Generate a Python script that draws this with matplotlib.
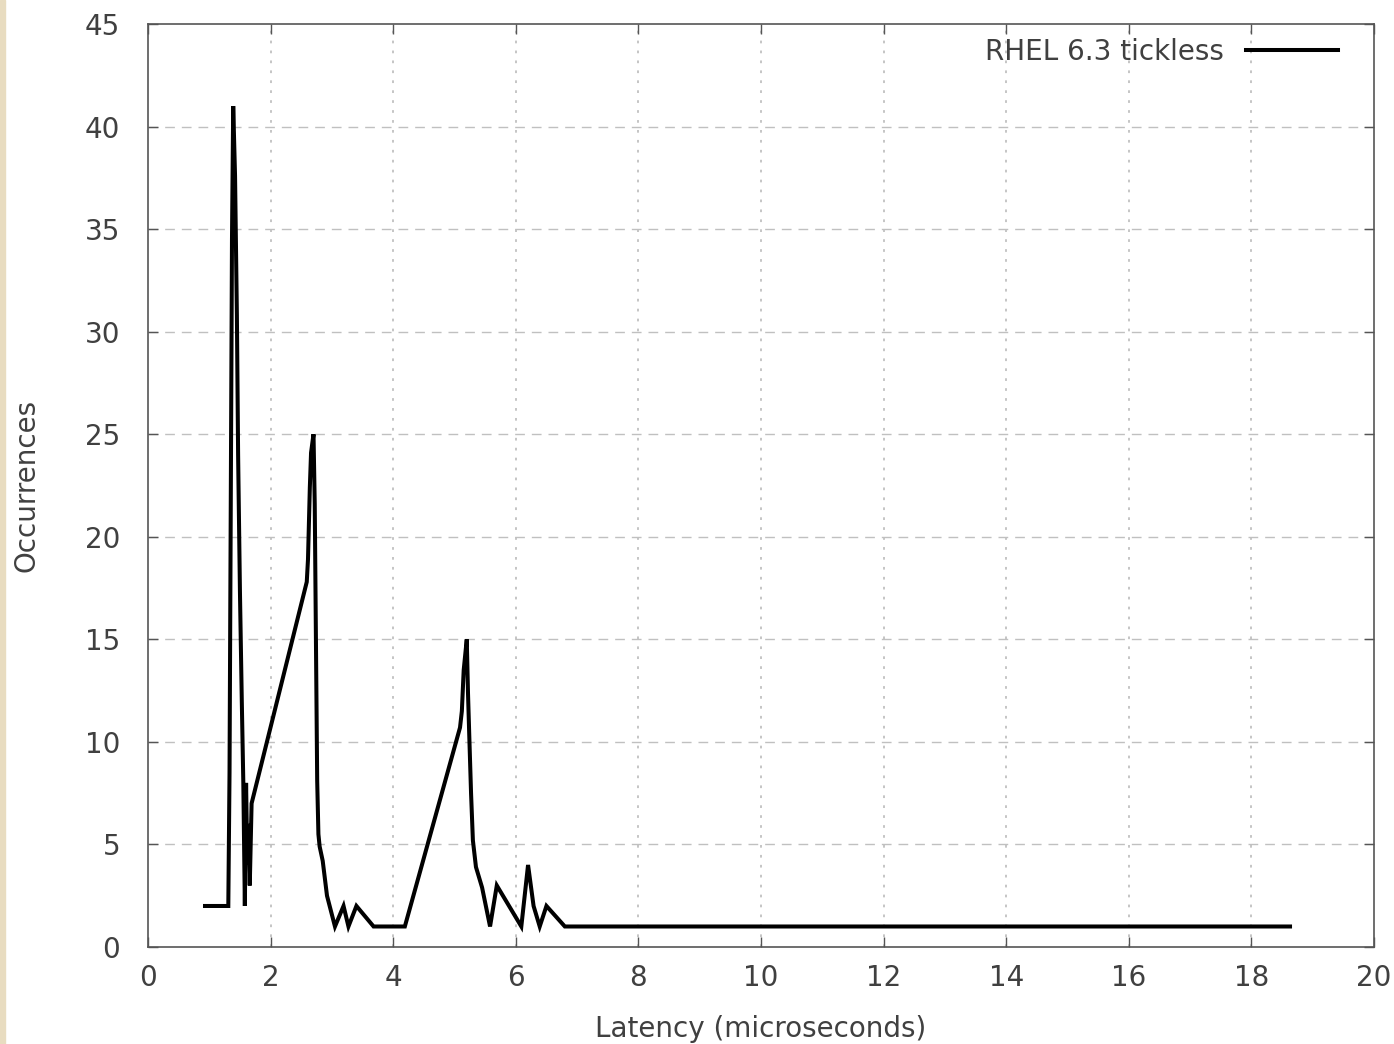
import matplotlib
matplotlib.use("Agg")
import matplotlib.pyplot as plt
from matplotlib.patches import Rectangle

# Latency histogram, values
latency = [0.93, 1.31, 1.33, 1.35, 1.37, 1.39, 1.42, 1.45, 1.47, 1.50, 1.53, 1.555,
           1.58, 1.60, 1.62, 1.64, 1.66, 1.69,
           2.59, 2.61, 2.64, 2.66, 2.70, 2.72, 2.74, 2.76, 2.78, 2.80, 2.85, 2.92,
           3.05, 3.19, 3.27, 3.40, 3.68, 4.19,
           5.09, 5.12, 5.15, 5.20, 5.22, 5.24, 5.27, 5.30, 5.35, 5.45, 5.58, 5.69,
           6.09, 6.20, 6.29, 6.39, 6.50, 6.80, 18.63]
occurrences = [2, 2, 8.5, 21.5, 34.5, 41, 37.6, 30.8, 24, 17.3, 12, 8,
               2, 8, 4, 6, 3, 7,
               17.8, 18.9, 22.4, 24.1, 25, 21.6, 14.8, 8.1, 5.5, 4.9, 4.2, 2.5,
               1, 2, 1, 2, 1, 1,
               10.7, 11.5, 13.5, 15, 12.4, 10.4, 7.5, 5.2, 3.9, 2.9, 1, 3,
               1, 4, 2, 1, 2, 1, 1]
series_name = "RHEL 6.3 tickless"

x_ticks = list(range(0, 21, 2))
y_ticks = list(range(0, 46, 5))

txt = "#404040"
fs = 20
plt.rcParams["font.family"] = ["DejaVu Sans"]

fig = plt.figure(figsize=(13.94, 10.44), dpi=100)
fig.patches.append(Rectangle((0, 0), 5 / 1394, 1, transform=fig.transFigure,
                             color="#e8dcc0", zorder=0))
ax = fig.add_axes([148 / 1394, 1 - 947 / 1044, 1226 / 1394, 923 / 1044])

ax.plot(latency, occurrences, color="black", lw=2.9, label=series_name,
        solid_joinstyle="miter")

ax.set_xlim(0, 20)
ax.set_ylim(0, 45)
ax.set_xticks(x_ticks)
ax.set_yticks(y_ticks)

# gnuplot style grid
for xv in x_ticks[1:-1]:
    ax.axvline(xv, color="#c0c0c0", lw=1.3, ls=(0, (1.5, 4)), zorder=0)
for yv in y_ticks[1:-1]:
    ax.axhline(yv, color="#c0c0c0", lw=1.0, ls=(0, (7, 5)), zorder=0)

ax.tick_params(direction="in", length=7, width=1, colors="#555555",
               labelcolor=txt, labelsize=fs, top=True, right=True)
ax.tick_params(axis="x", pad=12)
ax.tick_params(axis="y", pad=20)
for s in ax.spines.values():
    s.set_color("#555555")
    s.set_linewidth(1.2)

ax.set_xlabel("Latency (microseconds)", fontsize=fs, color=txt, labelpad=17)
ax.set_ylabel("Occurrences", fontsize=fs, color=txt, labelpad=32)

ax.legend(loc="upper right", bbox_to_anchor=(0.991, 1.012), markerfirst=False,
          frameon=False, handlelength=3.3, fontsize=fs, labelcolor=txt,
          handletextpad=0.8)

fig.savefig("out.png", dpi=100)
